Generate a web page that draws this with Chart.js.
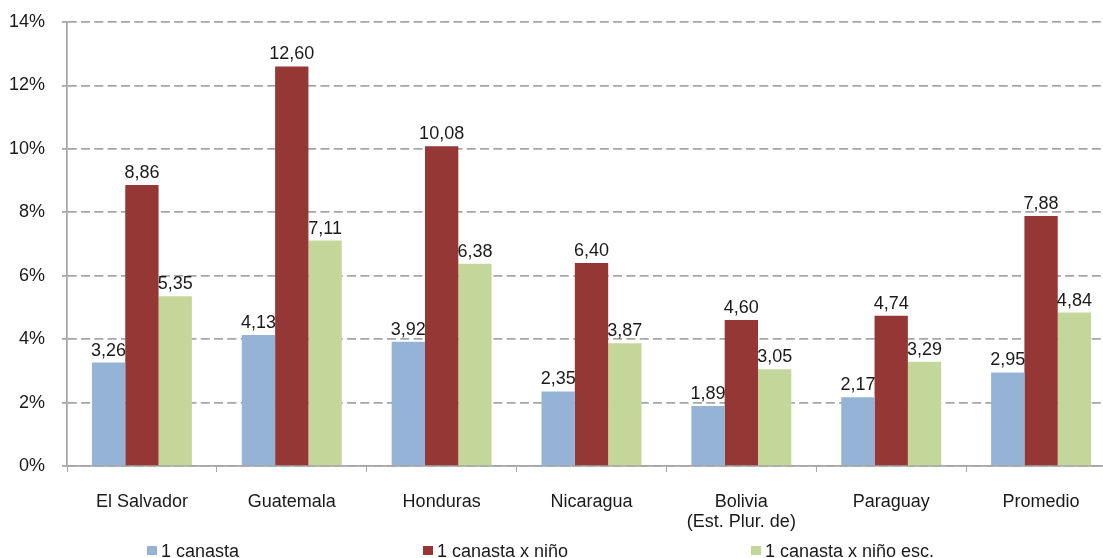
<!DOCTYPE html>
<html>
<head>
<meta charset="utf-8">
<script src="https://cdn.jsdelivr.net/npm/chart.js@4.4.1/dist/chart.umd.min.js"></script>
<style>
  html, body { margin: 0; padding: 0; background: #fff; overflow: hidden; }
  #wrap { position: absolute; left: 0; top: 0; width: 1125px; height: 562px; }
</style>
</head>
<body>
<div id="wrap"><canvas id="barChart"></canvas></div>
<script>
const paises = ['El Salvador', 'Guatemala', 'Honduras', 'Nicaragua', ['Bolivia', '(Est. Plur. de)'], 'Paraguay', 'Promedio'];
const unaCanasta = [3.26, 4.13, 3.92, 2.35, 1.89, 2.17, 2.95];
const canastaNino = [8.86, 12.60, 10.08, 6.40, 4.60, 4.74, 7.88];
const canastaNinoEsc = [5.35, 7.11, 6.38, 3.87, 3.05, 3.29, 4.84];
const serieNombres = ['1 canasta', '1 canasta x niño', '1 canasta x niño esc.'];
const serieColores = ['#95b3d7', '#953735', '#c4d79b'];

const fuente = { family: "'Liberation Sans', Arial, sans-serif", size: 18 };
const gris = '#a6a6a6';
const texto = '#1a1a1a';

// etiquetas de valor encima de cada barra
const valueLabels = {
    id: 'valueLabels',
    afterDatasetsDraw(chart) {
        const ctx = chart.ctx;
        ctx.save();
        ctx.font = `${fuente.size}px ${fuente.family}`;
        ctx.fillStyle = texto;
        ctx.textAlign = 'center';
        ctx.textBaseline = 'alphabetic';
        chart.data.datasets.forEach((ds, i) => {
            chart.getDatasetMeta(i).data.forEach((bar, j) => {
                const txt = ds.data[j].toFixed(2).replace('.', ',');
                ctx.fillText(txt, bar.x, bar.y - 7);
            });
        });
        ctx.restore();
    }
};

// leyenda al estilo Excel, repartida a lo ancho
const legendXs = [147, 423, 751];
const spreadLegend = {
    id: 'spreadLegend',
    afterDraw(chart) {
        const ctx = chart.ctx;
        const y = 550;
        ctx.save();
        ctx.font = `${fuente.size}px ${fuente.family}`;
        ctx.textBaseline = 'alphabetic';
        ctx.textAlign = 'left';
        chart.data.datasets.forEach((ds, i) => {
            const x = legendXs[i];
            ctx.fillStyle = ds.backgroundColor;
            ctx.fillRect(x, y - 4, 10, 9);
            ctx.fillStyle = texto;
            ctx.fillText(ds.label, x + 14, y + 7);
        });
        ctx.restore();
    }
};

const ctx = document.getElementById('barChart');
new Chart(ctx, {
    type: 'bar',
    data: {
        labels: paises,
        datasets: [unaCanasta, canastaNino, canastaNinoEsc].map((d, i) => ({
            label: serieNombres[i],
            data: d,
            backgroundColor: serieColores[i],
            borderWidth: 0,
            categoryPercentage: 0.667,
            barPercentage: 1
        }))
    },
    options: {
        responsive: true,
        maintainAspectRatio: false,
        animation: false,
        devicePixelRatio: 1,
        layout: { padding: { top: 22, right: 9, bottom: 26, left: 0 } },
        plugins: {
            legend: { display: false },
            tooltip: { enabled: false }
        },
        scales: {
            x: {
                offset: true,
                grid: {
                    offset: true,
                    drawOnChartArea: false,
                    drawTicks: true,
                    tickLength: 6,
                    color: gris
                },
                border: { color: gris, width: 1.75 },
                ticks: {
                    color: texto,
                    font: { ...fuente, lineHeight: 1.13 },
                    padding: 20,
                    maxRotation: 0,
                    autoSkip: false
                },
                afterFit(scale) { scale.height = 70; }
            },
            y: {
                min: 0,
                max: 14,
                ticks: {
                    stepSize: 2,
                    color: texto,
                    font: fuente,
                    padding: 17,
                    callback: v => v + '%'
                },
                grid: {
                    color: gris,
                    lineWidth: 1.75,
                    tickLength: 5,
                    tickBorderDash: []
                },
                border: { color: gris, width: 1.75, dash: [9, 4.3] },
                afterFit(scale) {
                    scale.width = 67;
                    scale.paddingTop = 0;
                    scale.paddingBottom = 0;
                }
            }
        }
    },
    plugins: [valueLabels, spreadLegend]
});
</script>
</body>
</html>
